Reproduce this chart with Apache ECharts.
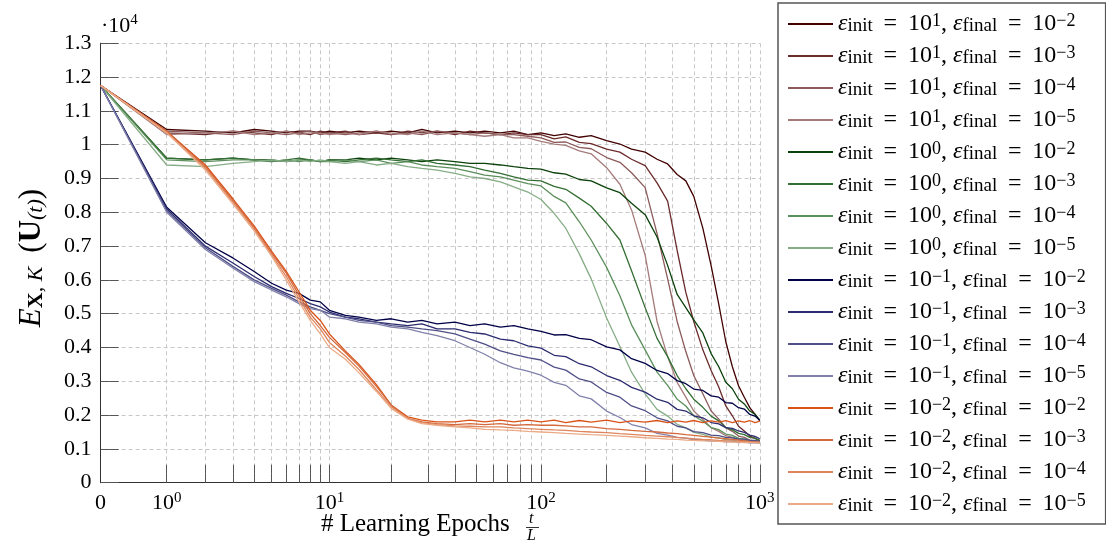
<!DOCTYPE html>
<html>
<head>
<meta charset="utf-8">
<title>Energy over learning epochs</title>
<script src="https://cdn.jsdelivr.net/npm/echarts@6/dist/echarts.min.js"></script>
<style>
  html, body { margin: 0; padding: 0; background: #fff; }
  #chart { width: 1106px; height: 545px; }
</style>
</head>
<body>
<div id="chart"></div>
<script>
  var epochs = [0, 1, 2, 3, 4, 5, 6, 7, 8, 9, 10,
    12, 14, 17, 20, 24, 28, 33, 40, 47, 55, 65, 75, 87,
    100, 115, 130, 150, 170, 200, 230, 260, 300, 340, 380, 420, 460, 500,
    550, 600, 650, 700, 750, 800, 850, 900, 950, 1000];

  // values in units of 10^4
  // eps_init = 10^1
  var r1 = [1.175, 1.045, 1.04, 1.035, 1.045, 1.04, 1.035, 1.04, 1.04, 1.035, 1.04,
    1.035, 1.04, 1.035, 1.04, 1.035, 1.045, 1.035, 1.04, 1.035, 1.04, 1.035, 1.04, 1.03,
    1.035, 1.027, 1.032, 1.022, 1.027, 1.012, 1.002, 0.987, 0.978, 0.957, 0.943, 0.912, 0.893, 0.847,
    0.753, 0.642, 0.528, 0.417, 0.343, 0.287, 0.253, 0.222, 0.203, 0.183];
  var r2 = [1.175, 1.035, 1.03, 1.04, 1.035, 1.03, 1.04, 1.035, 1.03, 1.04, 1.035,
    1.04, 1.03, 1.035, 1.03, 1.04, 1.035, 1.04, 1.03, 1.04, 1.035, 1.03, 1.035, 1.03,
    1.03, 1.017, 1.023, 1.007, 1.003, 0.987, 0.978, 0.957, 0.938, 0.887, 0.833, 0.687, 0.563, 0.477,
    0.393, 0.332, 0.283, 0.227, 0.198, 0.167, 0.153, 0.138, 0.132, 0.124];
  var r3 = [1.175, 1.04, 1.035, 1.03, 1.04, 1.035, 1.03, 1.035, 1.04, 1.03, 1.035,
    1.03, 1.035, 1.04, 1.03, 1.035, 1.03, 1.04, 1.035, 1.03, 1.035, 1.03, 1.03, 1.025,
    1.02, 1.007, 1.008, 0.992, 0.988, 0.962, 0.948, 0.917, 0.873, 0.737, 0.603, 0.477, 0.388, 0.317,
    0.263, 0.212, 0.188, 0.163, 0.152, 0.138, 0.134, 0.126, 0.124, 0.12];
  var r4 = [1.175, 1.03, 1.035, 1.04, 1.03, 1.035, 1.04, 1.03, 1.035, 1.035, 1.03,
    1.035, 1.03, 1.04, 1.035, 1.03, 1.04, 1.03, 1.035, 1.03, 1.025, 1.03, 1.02, 1.02,
    1.01, 1.002, 0.998, 0.982, 0.973, 0.932, 0.883, 0.807, 0.673, 0.477, 0.373, 0.297, 0.253, 0.212,
    0.187, 0.163, 0.152, 0.139, 0.134, 0.127, 0.126, 0.121, 0.12, 0.118];
  // eps_init = 10^0
  var g1 = [1.175, 0.96, 0.955, 0.96, 0.955, 0.955, 0.95, 0.955, 0.955, 0.95, 0.955,
    0.955, 0.96, 0.955, 0.96, 0.955, 0.95, 0.955, 0.95, 0.945, 0.945, 0.94, 0.935, 0.93,
    0.928, 0.917, 0.913, 0.897, 0.893, 0.872, 0.858, 0.827, 0.793, 0.727, 0.643, 0.557, 0.518, 0.482,
    0.443, 0.382, 0.343, 0.297, 0.278, 0.247, 0.233, 0.212, 0.203, 0.185];
  var g2 = [1.175, 0.96, 0.955, 0.96, 0.955, 0.95, 0.955, 0.96, 0.955, 0.95, 0.955,
    0.95, 0.955, 0.96, 0.955, 0.95, 0.955, 0.945, 0.94, 0.935, 0.925, 0.915, 0.905, 0.895,
    0.893, 0.877, 0.868, 0.842, 0.818, 0.767, 0.718, 0.627, 0.518, 0.427, 0.373, 0.317, 0.278, 0.247,
    0.223, 0.197, 0.183, 0.163, 0.157, 0.146, 0.142, 0.134, 0.131, 0.125];
  var g3 = [1.175, 0.955, 0.95, 0.955, 0.955, 0.95, 0.955, 0.95, 0.955, 0.95, 0.95,
    0.955, 0.95, 0.955, 0.945, 0.95, 0.94, 0.935, 0.93, 0.92, 0.91, 0.905, 0.895, 0.885,
    0.878, 0.847, 0.828, 0.772, 0.718, 0.637, 0.553, 0.467, 0.393, 0.327, 0.288, 0.247, 0.227, 0.198,
    0.182, 0.163, 0.157, 0.144, 0.14, 0.131, 0.129, 0.124, 0.123, 0.12];
  var g4 = [1.175, 0.94, 0.935, 0.945, 0.95, 0.955, 0.95, 0.955, 0.95, 0.955, 0.95,
    0.945, 0.95, 0.94, 0.945, 0.935, 0.93, 0.925, 0.915, 0.905, 0.9, 0.89, 0.875, 0.86,
    0.838, 0.797, 0.753, 0.677, 0.603, 0.487, 0.403, 0.327, 0.263, 0.217, 0.197, 0.173, 0.162, 0.149,
    0.143, 0.135, 0.133, 0.127, 0.126, 0.122, 0.122, 0.119, 0.12, 0.118];
  // eps_init = 10^-1
  var b1 = [1.175, 0.815, 0.71, 0.665, 0.625, 0.59, 0.57, 0.56, 0.54, 0.535, 0.51,
    0.495, 0.49, 0.48, 0.485, 0.475, 0.48, 0.47, 0.475, 0.465, 0.47, 0.46, 0.465, 0.455,
    0.448, 0.437, 0.438, 0.427, 0.423, 0.402, 0.393, 0.367, 0.353, 0.332, 0.323, 0.302, 0.293, 0.277,
    0.273, 0.257, 0.253, 0.237, 0.235, 0.222, 0.218, 0.202, 0.197, 0.185];
  var b2 = [1.175, 0.81, 0.7, 0.65, 0.61, 0.58, 0.56, 0.545, 0.53, 0.52, 0.505,
    0.49, 0.485, 0.475, 0.47, 0.465, 0.47, 0.455, 0.455, 0.445, 0.44, 0.425, 0.42, 0.405,
    0.398, 0.377, 0.373, 0.352, 0.343, 0.317, 0.303, 0.282, 0.268, 0.247, 0.238, 0.217, 0.212, 0.198,
    0.192, 0.178, 0.174, 0.163, 0.161, 0.153, 0.149, 0.141, 0.137, 0.13];
  var b3 = [1.175, 0.805, 0.695, 0.64, 0.6, 0.575, 0.555, 0.535, 0.52, 0.51, 0.5,
    0.49, 0.48, 0.475, 0.465, 0.46, 0.455, 0.45, 0.44, 0.425, 0.41, 0.39, 0.38, 0.37,
    0.363, 0.342, 0.333, 0.307, 0.298, 0.267, 0.253, 0.227, 0.213, 0.192, 0.183, 0.167, 0.162, 0.151,
    0.148, 0.141, 0.139, 0.134, 0.133, 0.129, 0.129, 0.125, 0.125, 0.122];
  var b4 = [1.175, 0.8, 0.69, 0.635, 0.595, 0.57, 0.55, 0.53, 0.515, 0.51, 0.49,
    0.485, 0.475, 0.47, 0.46, 0.455, 0.445, 0.435, 0.42, 0.4, 0.38, 0.355, 0.34, 0.33,
    0.318, 0.297, 0.288, 0.257, 0.248, 0.212, 0.193, 0.172, 0.162, 0.146, 0.141, 0.134, 0.132, 0.127,
    0.127, 0.123, 0.124, 0.121, 0.122, 0.119, 0.12, 0.118, 0.119, 0.118];
  // eps_init = 10^-2
  var o1 = [1.175, 1.04, 0.94, 0.84, 0.76, 0.685, 0.625, 0.565, 0.51, 0.48, 0.44,
    0.39, 0.35, 0.29, 0.23, 0.195, 0.185, 0.18, 0.18, 0.185, 0.18, 0.185, 0.18, 0.185,
    0.18, 0.185, 0.178, 0.184, 0.179, 0.185, 0.178, 0.183, 0.179, 0.184, 0.178, 0.183, 0.179, 0.184,
    0.178, 0.183, 0.179, 0.184, 0.178, 0.183, 0.179, 0.184, 0.178, 0.182];
  var o2 = [1.175, 1.04, 0.935, 0.835, 0.755, 0.68, 0.62, 0.555, 0.5, 0.465, 0.43,
    0.385, 0.345, 0.285, 0.23, 0.19, 0.18, 0.175, 0.172, 0.175, 0.172, 0.175, 0.17, 0.172,
    0.17, 0.17, 0.168, 0.165, 0.165, 0.16, 0.158, 0.155, 0.152, 0.15, 0.147, 0.145, 0.142, 0.14,
    0.137, 0.135, 0.132, 0.13, 0.128, 0.126, 0.124, 0.122, 0.121, 0.12];
  var o3 = [1.175, 1.035, 0.93, 0.83, 0.75, 0.675, 0.61, 0.545, 0.49, 0.455, 0.415,
    0.375, 0.335, 0.275, 0.225, 0.19, 0.178, 0.172, 0.168, 0.167, 0.165, 0.165, 0.162, 0.16,
    0.158, 0.156, 0.155, 0.152, 0.15, 0.148, 0.145, 0.143, 0.14, 0.138, 0.136, 0.134, 0.132, 0.13,
    0.128, 0.127, 0.125, 0.124, 0.123, 0.122, 0.121, 0.12, 0.12, 0.119];
  var o4 = [1.175, 1.035, 0.925, 0.825, 0.745, 0.67, 0.6, 0.535, 0.48, 0.44, 0.4,
    0.365, 0.325, 0.27, 0.22, 0.188, 0.175, 0.17, 0.165, 0.162, 0.158, 0.156, 0.155, 0.152,
    0.15, 0.148, 0.146, 0.144, 0.142, 0.14, 0.138, 0.136, 0.133, 0.131, 0.129, 0.128, 0.126, 0.125,
    0.124, 0.123, 0.122, 0.121, 0.12, 0.12, 0.119, 0.119, 0.118, 0.118];

  var curves = [r1, r2, r3, r4, g1, g2, g3, g4, b1, b2, b3, b4, o1, o2, o3, o4];
  var initExp = [1, 1, 1, 1, 0, 0, 0, 0, -1, -1, -1, -1, -2, -2, -2, -2];
  var finalExp = [-2, -3, -4, -5, -2, -3, -4, -5, -2, -3, -4, -5, -2, -3, -4, -5];
  var colors = ['#420000', '#6b2b2b', '#8c5a5a', '#a47a7a',
    '#0a420a', '#336e33', '#5b8f5b', '#86ad86',
    '#000048', '#2b2b70', '#4f4f88', '#8080ab',
    '#d95319', '#d4693c', '#df855c', '#ecab86'];

  // tick labels and grid lines of the x axis, in epochs
  var xLabelEpochs = [0, 1, 10, 100, 1000];
  var xLabelTexts = ['{n|0}', '{n|10}{s|0}', '{n|10}{s|1}', '{n|10}{s|2}', '{n|10}{s|3}'];
  var xGridEpochs = [1, 2, 3, 4, 5, 6, 7, 8, 9, 10, 20, 30, 40, 50, 60, 70, 80, 90,
    100, 200, 300, 400, 500, 600, 700, 800, 900, 1000];

  var FONT = 'Liberation Serif';
  var TICK = 9;

  // axis is log10(1 + t), so 0 fits on it
  function xPos(t) {
    return Math.log10(1 + t);
  }

  function sup(n) {
    return n < 0 ? '\u2212' + (-n) : '' + n;
  }

  var names = curves.map(function (c, i) {
    return 'init ' + initExp[i] + ' final ' + finalExp[i];
  });

  var legendRich = {
    t: {fontFamily: FONT, fontSize: 24, lineHeight: 24, color: '#000'},
    e: {fontFamily: FONT, fontSize: 24, fontStyle: 'italic', lineHeight: 24, color: '#000'},
    sub: {fontFamily: FONT, fontSize: 19, lineHeight: 15, verticalAlign: 'bottom', color: '#000'},
    sup: {fontFamily: FONT, fontSize: 18, lineHeight: 14, verticalAlign: 'top', color: '#000'}
  };

  var labelRich = {
    n: {fontFamily: FONT, fontSize: 22, lineHeight: 24, verticalAlign: 'bottom', color: '#000'},
    s: {fontFamily: FONT, fontSize: 15, lineHeight: 14, verticalAlign: 'top', color: '#000'}
  };

  // axes that only carry inward ticks: moved into the plot by the tick length
  function xTickAxis(pos) {
    return {
      type: 'value', position: pos, offset: -TICK,
      min: 0, max: xPos(1000),
      axisLine: {show: false},
      axisTick: {show: true, length: TICK, customValues: xGridEpochs.map(xPos), lineStyle: {color: '#555'}},
      axisLabel: {show: false},
      splitLine: {show: false}
    };
  }

  function yTickAxis(pos) {
    return {
      type: 'value', position: pos, offset: -TICK,
      min: 0, max: 1.3, interval: 0.1,
      axisLine: {show: false},
      axisTick: {show: true, length: TICK, lineStyle: {color: '#555'}},
      axisLabel: {show: false},
      splitLine: {show: false}
    };
  }

  var chart = echarts.init(document.getElementById('chart'));

  var option = {
    animation: false,
    backgroundColor: '#fff',
    grid: {left: 100.6, right: 346.2, top: 43.3, bottom: 62.3},
    legend: {
      orient: 'vertical',
      left: 778,
      top: 3,
      padding: [9, 20, 8, 9],
      itemGap: 8,
      itemWidth: 45,
      itemHeight: 12,
      borderColor: '#555',
      borderWidth: 1.5,
      backgroundColor: '#fff',
      itemStyle: {opacity: 0},
      data: names,
      formatter: function (name) {
        var i = names.indexOf(name);
        return '{e|\u03b5}{sub|init}{t|\u2009 = \u200910}{sup|' + sup(initExp[i]) + '}{t|, }' +
          '{e|\u03b5}{sub|final}{t|\u2009 = \u200910}{sup|' + sup(finalExp[i]) + '}';
      },
      textStyle: {rich: legendRich}
    },
    xAxis: [{
      type: 'value',
      position: 'bottom',
      min: 0,
      max: xPos(1000),
      axisLine: {lineStyle: {color: '#333', width: 1}},
      axisTick: {show: false, customValues: xGridEpochs.map(xPos)},
      axisLabel: {
        customValues: xLabelEpochs.map(xPos),
        margin: 8,
        formatter: function (v) {
          var best = 0;
          xLabelEpochs.forEach(function (t, k) {
            if (Math.abs(xPos(t) - v) < Math.abs(xPos(xLabelEpochs[best]) - v)) best = k;
          });
          return xLabelTexts[best];
        },
        rich: labelRich
      },
      splitLine: {show: true, lineStyle: {color: '#c8c8c8', type: [4, 3], width: 1}}
    }, {
      type: 'value',
      position: 'top',
      min: 0,
      max: xPos(1000),
      axisLine: {lineStyle: {color: '#333', width: 1}},
      axisTick: {show: false},
      axisLabel: {show: false},
      splitLine: {show: false}
    }, xTickAxis('bottom'), xTickAxis('top')],
    yAxis: [{
      type: 'value',
      position: 'left',
      min: 0,
      max: 1.3,
      interval: 0.1,
      name: '{i|E}{sb|X}{si|, K}{n|\u2009 (}{b|U}{si|(t)}{n|)}',
      nameLocation: 'middle',
      nameGap: 53,
      nameRotate: 90,
      nameTextStyle: {
        padding: [0, 0, 0, 10],
        rich: {
          i: {fontFamily: FONT, fontSize: 31, fontStyle: 'italic', color: '#000', lineHeight: 32},
          n: {fontFamily: FONT, fontSize: 31, color: '#000', lineHeight: 32},
          b: {fontFamily: FONT, fontSize: 31, fontWeight: 'bold', color: '#000', lineHeight: 32},
          sb: {fontFamily: FONT, fontSize: 22, fontWeight: 'bold', color: '#000', lineHeight: 18, verticalAlign: 'bottom'},
          si: {fontFamily: FONT, fontSize: 22, fontStyle: 'italic', color: '#000', lineHeight: 18, verticalAlign: 'bottom'}
        }
      },
      axisLine: {show: true, lineStyle: {color: '#333', width: 1}},
      axisTick: {show: false},
      axisLabel: {
        margin: 9,
        fontFamily: FONT,
        fontSize: 22,
        color: '#000',
        formatter: function (v) {
          return String(Math.round(v * 10) / 10);
        }
      },
      splitLine: {show: true, lineStyle: {color: '#c8c8c8', type: [4, 3], width: 1}}
    }, {
      type: 'value',
      position: 'right',
      min: 0,
      max: 1.3,
      interval: 0.1,
      axisLine: {show: true, lineStyle: {color: '#333', width: 1}},
      axisTick: {show: false},
      axisLabel: {show: false},
      splitLine: {show: false}
    }, yTickAxis('left'), yTickAxis('right')],
    graphic: [{
      type: 'text',
      left: 101,
      top: 13,
      style: {
        text: '{n|\u00b710}{s|4}',
        rich: labelRich
      }
    }, {
      type: 'text',
      left: 321,
      top: 512,
      style: {text: '# Learning Epochs', fontFamily: FONT, fontSize: 25, fill: '#000'}
    }, {
      type: 'text',
      left: 529,
      top: 511,
      style: {text: 't', fontFamily: FONT, fontSize: 16, fontStyle: 'italic', fill: '#000'}
    }, {
      type: 'line',
      shape: {x1: 526, y1: 527.5, x2: 539, y2: 527.5},
      style: {stroke: '#000', lineWidth: 0.8}
    }, {
      type: 'text',
      left: 527,
      top: 528,
      style: {text: 'L', fontFamily: FONT, fontSize: 16, fontStyle: 'italic', fill: '#000'}
    }],
    series: curves.map(function (vals, i) {
      return {
        name: names[i],
        type: 'line',
        symbol: 'none',
        xAxisIndex: 0,
        yAxisIndex: 0,
        data: epochs.map(function (t, k) {
          return [xPos(t), vals[k]];
        }),
        lineStyle: {width: 1.3, color: colors[i]},
        itemStyle: {color: colors[i]}
      };
    })
  };

  chart.setOption(option);
</script>
</body>
</html>
